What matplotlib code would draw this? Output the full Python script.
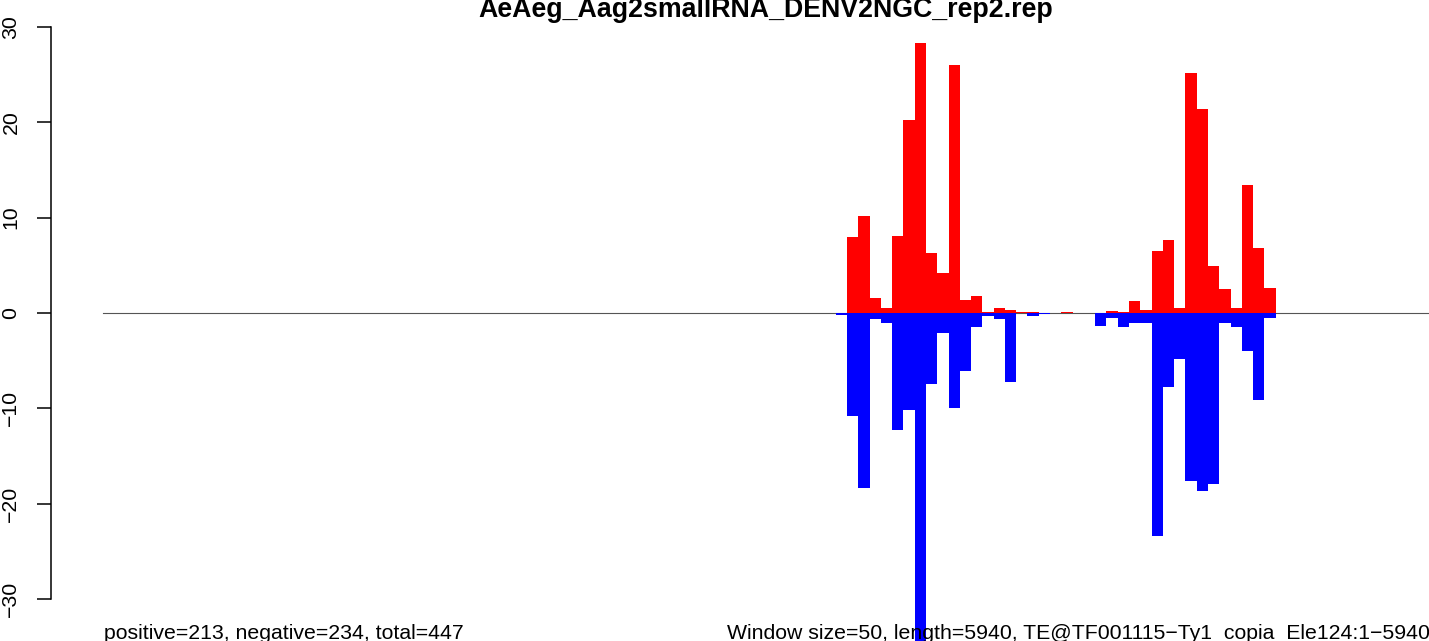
import numpy as np
import matplotlib
matplotlib.use('Agg')
from matplotlib import pyplot as plt

plt.rcParams['font.family'] = ['Liberation Sans', 'DejaVu Sans']

# Window starts (bp), window size 50
win_size = 50
seq_len = 5940
win_start = [i * win_size for i in range(65, 104)]

# sense (red) and antisense (blue) counts per window
pos_counts = [0, 8.0, 10.2, 1.6, 0.56, 8.1, 20.2, 28.3, 6.3, 4.2,
              26.0, 1.4, 1.8, 0.15, 0.56, 0.35, 0.15, 0.15, 0, 0,
              0.08, 0, 0, 0, 0.24, 0.14, 1.3, 0.35, 6.5, 7.7,
              0.56, 25.2, 21.4, 4.96, 2.55, 0.56, 13.45, 6.85, 2.65]
neg_counts = [-0.2, -10.8, -18.3, -0.6, -1.1, -12.3, -10.2, -36.0, -7.4, -2.1,
              -10.0, -6.05, -1.5, -0.35, -0.67, -7.2, 0, -0.3, -0.08, 0,
              0, 0, 0, -1.33, -0.5, -1.5, -1.1, -1.1, -23.4, -7.8,
              -4.8, -17.6, -18.7, -17.9, -1.1, -1.5, -3.95, -9.1, -0.5]

yticks = [-30, -20, -10, 0, 10, 20, 30]
title = 'AeAeg_Aag2smallRNA_DENV2NGC_rep2.rep'
left_note = 'positive=213, negative=234, total=447'
right_note = 'Window size=50, length=5940, TE@TF001115\u2212Ty1_copia_Ele124:1\u22125940'

W, H = 1429, 641
fig = plt.figure(figsize=(W / 100, H / 100), dpi=100)
ax = fig.add_axes([0, 0, 1, 1])
ax.patch.set_alpha(0)

# pixel mapping like the original R device
px_per_bp = 11.28 / win_size
x0_px = 102.5
px_per_y = 9.543
y0_px = 313
ax.set_xlim(-x0_px / px_per_bp, (W - x0_px) / px_per_bp)
ax.set_ylim(-(H - y0_px) / px_per_y, y0_px / px_per_y)

ax.plot([0, seq_len], [0, 0], color='#555555', lw=0.8, zorder=1)
ax.bar(win_start, pos_counts, width=win_size, align='edge', color='red', lw=0, zorder=2)
ax.bar(win_start, neg_counts, width=win_size, align='edge', color='blue', lw=0, zorder=2)

for s in ['top', 'right', 'bottom']:
    ax.spines[s].set_visible(False)
ax.spines['left'].set_position(('axes', 51 / W))
ax.spines['left'].set_bounds(-30, 30)
ax.spines['left'].set_linewidth(1.1)
ax.set_xticks([])
ax.set_yticks(yticks)
ax.set_yticklabels([str(t).replace('-', '\u2212') for t in yticks], rotation=90, va='center', fontsize=15.3)
ax.tick_params(axis='y', length=10, width=1.1, pad=12)

fig.text(766 / W, 1 - 17 / H, title, ha='center', va='baseline', fontsize=19.3, fontweight='bold')
fig.text(104 / W, 1 - 639 / H, left_note, ha='left', va='baseline', fontsize=15.3)
fig.text(727 / W, 1 - 639 / H, right_note, ha='left', va='baseline', fontsize=15.3)

fig.savefig('out.png', dpi=100)
